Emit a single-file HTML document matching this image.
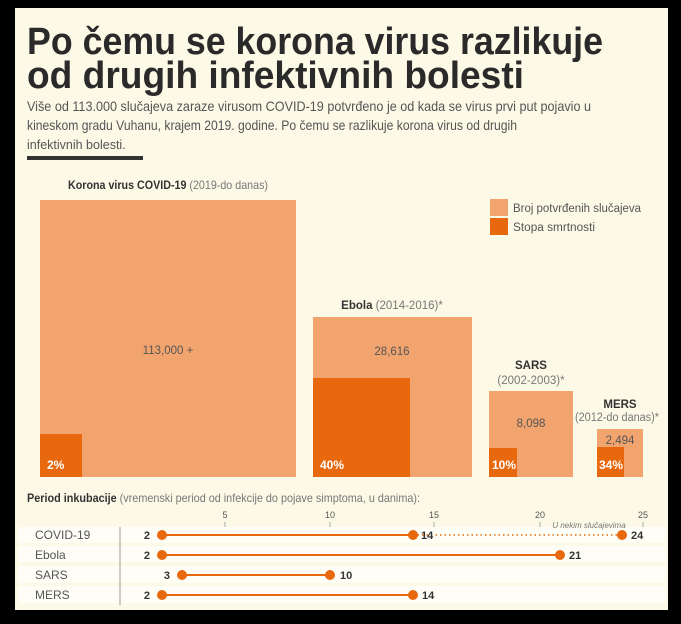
<!DOCTYPE html><html><head><meta charset="utf-8"><style>html,body{margin:0;padding:0;background:#000}svg{display:block}text{font-family:"Liberation Sans",sans-serif}</style></head><body>
<svg width="681" height="624" viewBox="0 0 681 624">
<rect width="681" height="624" fill="#000"/>
<rect x="15" y="8" width="653" height="602" fill="#fcf9e6"/>
<g fill="#2a2a2a" font-weight="bold" font-size="38">
<text x="27" y="54" textLength="576" lengthAdjust="spacingAndGlyphs">Po čemu se korona virus razlikuje</text>
<text x="27" y="88" textLength="497" lengthAdjust="spacingAndGlyphs">od drugih infektivnih bolesti</text>
</g>
<g fill="#555" font-size="14">
<text x="27" y="111" textLength="564" lengthAdjust="spacingAndGlyphs">Više od 113.000 slučajeva zaraze virusom COVID-19 potvrđeno je od kada se virus prvi put pojavio u</text>
<text x="27" y="130" textLength="490" lengthAdjust="spacingAndGlyphs">kineskom gradu Vuhanu, krajem 2019. godine.  Po čemu se razlikuje korona virus od drugih</text>
</g>
<text x="27" y="149" fill="#555" font-size="12.5">infektivnih bolesti.</text>
<rect x="27" y="156" width="116" height="4" fill="#333"/>
<text x="68" y="189" font-size="12" fill="#333" textLength="200" lengthAdjust="spacingAndGlyphs"><tspan font-weight="bold">Korona virus COVID-19</tspan><tspan fill="#777"> (2019-do danas)</tspan></text>
<g fill="#f2a46e">
<rect x="40" y="200" width="256" height="277"/>
<rect x="313" y="317" width="159" height="160"/>
<rect x="489" y="391" width="84" height="86"/>
<rect x="597" y="429" width="46" height="48"/>
<rect x="490" y="199" width="18" height="17"/>
</g>
<g fill="#e8680e">
<rect x="40" y="434" width="42" height="43"/>
<rect x="313" y="378" width="97" height="99"/>
<rect x="489" y="448" width="28" height="29"/>
<rect x="597" y="447" width="27" height="30"/>
<rect x="490" y="218" width="18" height="17"/>
</g>
<g font-size="11.5" fill="#555">
<text x="513" y="212" textLength="128" lengthAdjust="spacingAndGlyphs">Broj potvrđenih slučajeva</text>
<text x="513" y="231" textLength="82" lengthAdjust="spacingAndGlyphs">Stopa smrtnosti</text>
<text x="168" y="354" text-anchor="middle">113,000 +</text>
<text x="392" y="355" text-anchor="middle">28,616</text>
<text x="531" y="427" text-anchor="middle">8,098</text>
<text x="620" y="444" text-anchor="middle">2,494</text>
<text x="392" y="309" text-anchor="middle"><tspan font-weight="bold" fill="#333">Ebola</tspan><tspan fill="#777"> (2014-2016)*</tspan></text>
<text x="531" y="369" text-anchor="middle" font-weight="bold" fill="#333">SARS</text>
<text x="531" y="384" text-anchor="middle" fill="#777">(2002-2003)*</text>
<text x="620" y="408" text-anchor="middle" font-weight="bold" fill="#333">MERS</text>
<text x="617" y="421" text-anchor="middle" fill="#777" textLength="84" lengthAdjust="spacingAndGlyphs">(2012-do danas)*</text>
</g>
<g font-size="12" font-weight="bold" fill="#fff">
<text x="47" y="469">2%</text><text x="320" y="469">40%</text><text x="492" y="469">10%</text><text x="599" y="469">34%</text>
</g>
<text x="27" y="502" font-size="12" fill="#333" textLength="393" lengthAdjust="spacingAndGlyphs"><tspan font-weight="bold">Period inkubacije</tspan><tspan fill="#777"> (vremenski period od infekcije do pojave simptoma, u danima):</tspan></text>
<g fill="#fffef6">
<rect x="18" y="527" width="648" height="16"/>
<rect x="18" y="546" width="648" height="16"/>
<rect x="18" y="566" width="648" height="17"/>
<rect x="18" y="586" width="648" height="17"/>
</g>
<line x1="120" y1="527" x2="120" y2="605" stroke="#999"/>
<g font-size="9" fill="#555" text-anchor="middle">
<text x="225" y="518">5</text><text x="330" y="518">10</text><text x="434" y="518">15</text><text x="540" y="518">20</text><text x="643" y="518">25</text>
</g>
<g stroke="#aaa"><line x1="225" y1="522" x2="225" y2="527"/><line x1="330" y1="522" x2="330" y2="527"/><line x1="434" y1="522" x2="434" y2="527"/><line x1="540" y1="522" x2="540" y2="527"/><line x1="643" y1="522" x2="643" y2="527"/></g>
<text x="589" y="528" font-size="8" font-style="italic" fill="#777" text-anchor="middle">U nekim slučajevima</text>
<g font-size="12" fill="#555">
<text x="35" y="539">COVID-19</text><text x="35" y="559">Ebola</text><text x="35" y="579">SARS</text><text x="35" y="599">MERS</text>
</g>
<g stroke="#e8680e" stroke-width="2">
<line x1="162" y1="535" x2="413" y2="535"/>
<line x1="413" y1="535" x2="622" y2="535" stroke-dasharray="1.5,3" stroke-width="1.5"/>
<line x1="162" y1="555" x2="560" y2="555"/>
<line x1="182" y1="575" x2="330" y2="575"/>
<line x1="162" y1="595" x2="413" y2="595"/>
</g>
<g fill="#e8680e">
<circle cx="162" cy="535" r="5"/><circle cx="413" cy="535" r="5"/><circle cx="622" cy="535" r="5"/>
<circle cx="162" cy="555" r="5"/><circle cx="560" cy="555" r="5"/>
<circle cx="182" cy="575" r="5"/><circle cx="330" cy="575" r="5"/>
<circle cx="162" cy="595" r="5"/><circle cx="413" cy="595" r="5"/>
</g>
<g font-size="11" font-weight="bold" fill="#333">
<text x="150" y="539" text-anchor="end">2</text><text x="421" y="539">14</text><text x="631" y="539">24</text>
<text x="150" y="559" text-anchor="end">2</text><text x="569" y="559">21</text>
<text x="170" y="579" text-anchor="end">3</text><text x="340" y="579">10</text>
<text x="150" y="599" text-anchor="end">2</text><text x="422" y="599">14</text>
</g>
</svg>
</body></html>
